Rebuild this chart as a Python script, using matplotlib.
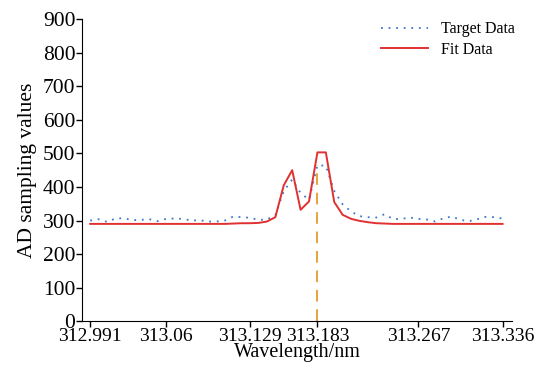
import numpy as np
import matplotlib
matplotlib.use('Agg')
import matplotlib.pyplot as plt

plt.rcParams['font.family'] = ['Liberation Serif', 'DejaVu Serif']

# sample index along the spectrum (50 samples)
idx = np.arange(50)

target = [300, 304, 296, 306, 307, 301, 302, 304, 298, 305,
          306, 305, 300, 301, 297, 297, 300, 312, 310, 308,
          302, 303, 316, 388, 422, 382, 362, 465, 463, 388,
          348, 327, 313, 310, 309, 319, 304, 305, 309, 305,
          303, 297, 307, 312, 302, 298, 304, 311, 310, 306]

fit = [290, 290, 290, 290, 290, 290, 290, 290, 290, 290,
       290, 290, 290, 290, 290, 290, 290, 291, 292, 292,
       293, 297, 310, 405, 450, 332, 357, 503, 503, 355,
       317, 305, 299, 295, 292, 291, 290, 290, 290, 290,
       290, 290, 290, 290, 290, 290, 290, 290, 290, 290]

tick_idx = [0, 9, 19, 27, 39, 49]
tick_labels = ['312.991', '313.06', '313.129', '313.183', '313.267', '313.336']
peak = 27

fig = plt.figure(figsize=(5.48, 3.74), dpi=100)
ax = fig.add_axes([0.15, 0.141, 0.784, 0.808])

ax.plot(idx, target, linestyle=(0, (1, 3.2)), color='#3a78c8', lw=1.3, label='Target Data')
ax.plot(idx, fit, '-', color='#e03030', lw=1.4, label='Fit Data')
ax.vlines(peak, 0, target[peak], colors='#e8a23a', linestyles=(0, (6, 4)), lw=1.4)

ax.set_xlim(-0.95, 50.1)
ax.set_ylim(0, 900)
ax.set_yticks(np.arange(0, 901, 100))
ax.set_xticks(tick_idx)
ax.set_xticklabels(tick_labels)
ax.tick_params(length=4, width=1)
ax.tick_params(axis='x', labelsize=14, pad=0.5)
ax.tick_params(axis='y', labelsize=15.5, pad=1)

for s in ['top', 'right']:
    ax.spines[s].set_visible(False)

ax.set_xlabel('Wavelength/nm', fontsize=14.5, labelpad=-1)
ax.set_ylabel('AD sampling values', fontsize=15.5, labelpad=4)
ax.legend(loc='upper right', frameon=False, fontsize=11.5, handlelength=3,
          borderaxespad=0.2, labelspacing=0.3, bbox_to_anchor=(1.03, 1.025))

fig.savefig('out.png', dpi=100)
